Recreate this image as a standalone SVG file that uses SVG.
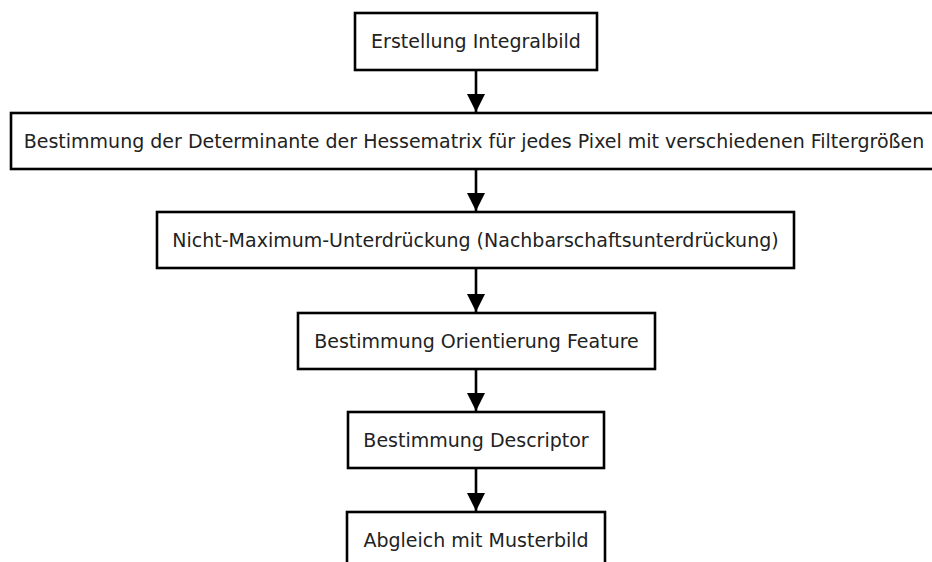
<svg xmlns="http://www.w3.org/2000/svg" width="932" height="562" viewBox="0 0 932 562">
<defs>
<marker id="ah" markerUnits="userSpaceOnUse" markerWidth="20" markerHeight="20" refX="18" refY="9" orient="auto">
<path d="M0,0 L18,9 L0,18 Z" fill="#000"/>
</marker>
<style>
.box{fill:#fff;stroke:#000;stroke-width:2.6}
.lbl{font-family:"DejaVu Sans",sans-serif;font-size:19px;fill:#222;text-anchor:middle}
.con{stroke:#000;stroke-width:2.6;fill:none}
</style>
</defs>
<rect width="932" height="562" fill="#fff"/>
<g id="n1"><rect class="box" x="355" y="13" width="242" height="57"/><text class="lbl" x="476" y="48">Erstellung Integralbild</text></g>
<g id="n2"><rect class="box" x="11" y="113" width="930" height="56"/><text class="lbl" x="474" y="147.5">Bestimmung der Determinante der Hessematrix für jedes Pixel mit verschiedenen Filtergrößen</text></g>
<g id="n3"><rect class="box" x="157" y="212" width="637" height="56"/><text class="lbl" x="475.5" y="246.5">Nicht-Maximum-Unterdrückung (Nachbarschaftsunterdrückung)</text></g>
<g id="n4"><rect class="box" x="298" y="313" width="357" height="56"/><text class="lbl" x="476.5" y="347.5">Bestimmung Orientierung Feature</text></g>
<g id="n5"><rect class="box" x="348" y="412" width="256" height="56"/><text class="lbl" x="476" y="446.5">Bestimmung Descriptor</text></g>
<g id="n6"><rect class="box" x="347" y="512" width="258" height="57"/><text class="lbl" x="476" y="546.5">Abgleich mit Musterbild</text></g>
<g id="connectors">
<line class="con" x1="476" y1="70" x2="476" y2="112" marker-end="url(#ah)"/>
<line class="con" x1="476" y1="169" x2="476" y2="211" marker-end="url(#ah)"/>
<line class="con" x1="476" y1="268" x2="476" y2="312" marker-end="url(#ah)"/>
<line class="con" x1="476" y1="369" x2="476" y2="411" marker-end="url(#ah)"/>
<line class="con" x1="476" y1="468" x2="476" y2="511" marker-end="url(#ah)"/>
</g>
</svg>
